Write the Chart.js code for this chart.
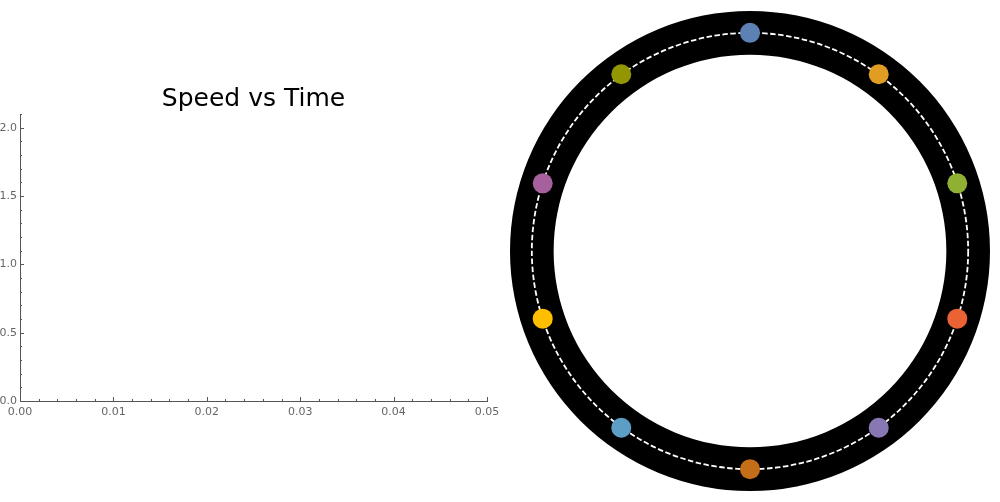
<!DOCTYPE html>
<html>
<head>
<meta charset="utf-8">
<script src="https://cdn.jsdelivr.net/npm/chart.js@4/dist/chart.umd.min.js"></script>
<style>
  html, body { margin: 0; padding: 0; background: #fff; width: 1000px; height: 502px; overflow: hidden; }
  #left { position: absolute; left: 0; top: 0; width: 500px; height: 502px; }
  #right { position: absolute; left: 510px; top: 11px; width: 480px; height: 480px; }
</style>
</head>
<body>
<div id="left"><canvas id="speedChart" width="500" height="502"></canvas></div>
<div id="right"><canvas id="ringChart" width="480" height="480"></canvas></div>
<script>
// ---- Data ----
const timeValues = [];          // no speed samples plotted yet
const speedValues = [];
const xTickValues = [0, 0.01, 0.02, 0.03, 0.04, 0.05];
const yTickValues = [0, 0.5, 1.0, 1.5, 2.0];
const xRange = [0, 0.05];
const yRange = [0, 2.1];

// particle positions on the track (units of track radius)
const particleX = [0, 0.59, 0.95, 0.95, 0.59, 0, -0.59, -0.95, -0.95, -0.59];
const particleY = [1.0, 0.81, 0.31, -0.31, -0.81, -1.0, -0.81, -0.31, 0.31, 0.81];
const particleColors = ['#5E81B5', '#E19C24', '#8FB032', '#EB6235', '#8778B3',
                        '#C56E1A', '#5D9EC7', '#FFBF00', '#A5609D', '#929600'];
const trackRadius = 1.0;
const ringInner = 0.9;
const ringOuter = 1.1;

const FONT = "'DejaVu Sans', sans-serif";

// ---- Left: Speed vs Time ----
const inwardTicks = {
  id: 'inwardTicks',
  afterDraw(chart) {
    const {ctx, scales: {x, y}, chartArea} = chart;
    ctx.save();
    ctx.strokeStyle = '#555';
    ctx.lineWidth = 1;
    const xStep = 0.002;
    const nx = Math.round((xRange[1] - xRange[0]) / xStep);
    for (let i = 0; i <= nx; i++) {
      const px = Math.round(x.getPixelForValue(xRange[0] + i * xStep)) + 0.5;
      const len = (i % 5 === 0) ? 4 : 2;
      ctx.beginPath();
      ctx.moveTo(px, chartArea.bottom);
      ctx.lineTo(px, chartArea.bottom - len);
      ctx.stroke();
    }
    const yStep = 0.1;
    const ny = Math.round((yRange[1] - yRange[0]) / yStep);
    for (let i = 0; i <= ny; i++) {
      const py = Math.round(y.getPixelForValue(yRange[0] + i * yStep)) + 0.5;
      const len = (i % 5 === 0) ? 4 : 2;
      ctx.beginPath();
      ctx.moveTo(chartArea.left, py);
      ctx.lineTo(chartArea.left + len, py);
      ctx.stroke();
    }
    ctx.restore();
  }
};

new Chart(document.getElementById('speedChart'), {
  type: 'scatter',
  data: {
    datasets: [{
      label: 'Speed',
      data: timeValues.map((t, i) => ({x: t, y: speedValues[i]})),
      showLine: true,
      borderColor: '#5E81B5',
      pointRadius: 0
    }]
  },
  options: {
    responsive: false,
    animation: false,
    events: [],
    layout: { autoPadding: false, padding: { left: 0, right: 13, top: 0, bottom: 71 } },
    plugins: {
      legend: { display: false },
      tooltip: { enabled: false },
      title: {
        display: true,
        fullSize: false,
        text: 'Speed vs Time',
        color: '#000',
        font: { family: FONT, size: 25, weight: 'normal' },
        padding: { top: 84, bottom: 0 }
      }
    },
    scales: {
      x: {
        type: 'linear',
        min: xRange[0], max: xRange[1],
        afterBuildTicks: s => { s.ticks = xTickValues.map(v => ({value: v})); },
        afterFit: s => { s.height = 30; s.paddingRight = 0; s.paddingLeft = 0; },
        grid: { display: true, drawOnChartArea: false, drawTicks: false },
        border: { display: true, color: '#555', width: 1 },
        ticks: {
          autoSkip: false, maxRotation: 0, padding: 5,
          color: '#666', font: { family: FONT, size: 11 },
          callback: v => Number(v).toFixed(2)
        }
      },
      y: {
        type: 'linear',
        min: yRange[0], max: yRange[1],
        afterBuildTicks: s => { s.ticks = yTickValues.map(v => ({value: v})); },
        afterFit: s => { s.width = 20; s.paddingTop = 0; s.paddingBottom = 0; },
        grid: { display: true, drawOnChartArea: false, drawTicks: false },
        border: { display: true, color: '#555', width: 1 },
        ticks: {
          autoSkip: false, padding: 3,
          color: '#666', font: { family: FONT, size: 11 },
          callback: v => Number(v).toFixed(1)
        }
      }
    }
  },
  plugins: [inwardTicks]
});

// ---- Right: ring track with particles ----
const trackPlugin = {
  id: 'track',
  beforeDatasetsDraw(chart) {
    const {ctx, scales: {x, y}} = chart;
    const cx = x.getPixelForValue(0);
    const cy = y.getPixelForValue(0);
    const unit = x.getPixelForValue(1) - cx;
    ctx.save();
    ctx.beginPath();
    ctx.arc(cx, cy, ringOuter * unit, 0, Math.PI * 2);
    ctx.arc(cx, cy, ringInner * unit, 0, Math.PI * 2);
    ctx.fillStyle = '#000';
    ctx.fill('evenodd');
    ctx.beginPath();
    ctx.arc(cx, cy, trackRadius * unit, 0, Math.PI * 2);
    ctx.strokeStyle = '#fff';
    ctx.lineWidth = 1.8;
    ctx.setLineDash([5.5, 2.5]);
    ctx.stroke();
    ctx.restore();
  }
};

new Chart(document.getElementById('ringChart'), {
  type: 'scatter',
  data: {
    datasets: [{
      label: 'Particles',
      data: particleX.map((px, i) => ({x: px, y: particleY[i]})),
      backgroundColor: particleColors,
      borderWidth: 0,
      pointRadius: 10,
      clip: false
    }]
  },
  options: {
    responsive: false,
    animation: false,
    events: [],
    layout: { autoPadding: false, padding: 0 },
    plugins: { legend: { display: false }, tooltip: { enabled: false } },
    scales: {
      x: { type: 'linear', min: -1.1, max: 1.1, display: false },
      y: { type: 'linear', min: -1.1, max: 1.1, display: false }
    }
  },
  plugins: [trackPlugin]
});
</script>
</body>
</html>
